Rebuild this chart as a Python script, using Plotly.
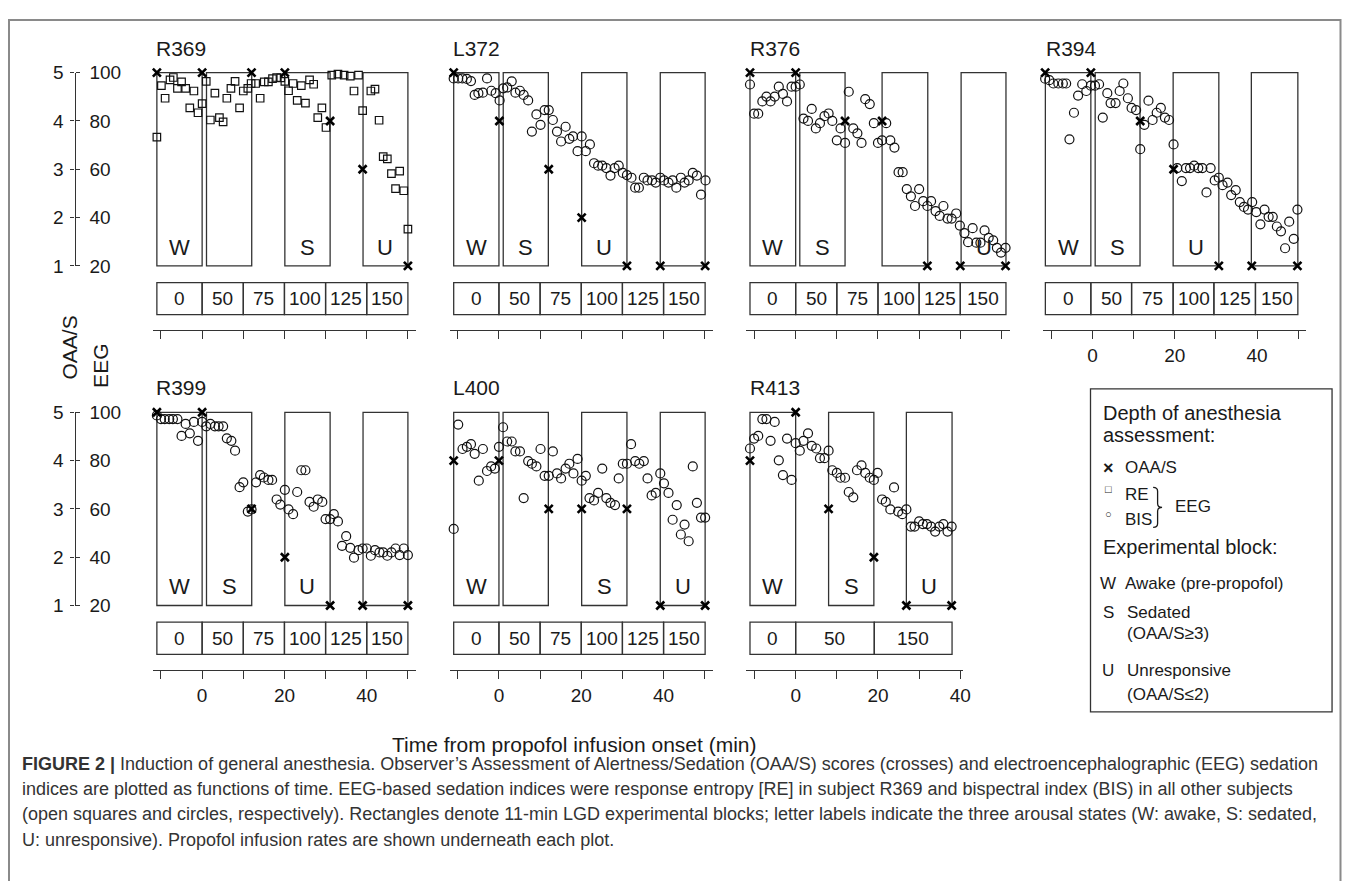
import plotly.graph_objects as go

# The page body keeps the browser's 8px margin, so the figure is drawn 8px in from the
# window corner; all positions below are window pixels and are converted for that.
PAGE_W, PAGE_H = 1357, 889
BODY_MARGIN = 8
FIG_W, FIG_H = PAGE_W - 2 * BODY_MARGIN, PAGE_H - 2 * BODY_MARGIN
FONT = "Liberation Sans, Arial, sans-serif"
INK = "#1a1a1a"
LINE = "#333333"

# ------------------------------------------------------------------ data
# R369 (response entropy, squares)
R369_T = [-11, -9.9, -9.0, -7.8, -7.0, -6.0, -5.0, -4.0, -3.0, -2.0, -1.0, 0.0, 1.0, 2.0, 3.1, 4.2,
          5.1, 6.0, 7.0, 8.0, 9.1, 10.0, 11.1, 11.9, 13.0, 14.1, 15.1, 16.1, 17.1, 18.1, 19.1, 20.1,
          21.0, 22.1, 23.1, 24.1, 25.1, 26.1, 27.1, 28.1, 29.1, 30.1, 31.5, 33.0, 34.5, 36.0, 36.9,
          38.0, 39.0, 41.0, 42.0, 43.0, 44.0, 45.0, 46.0, 47.0, 48.0, 49.0, 50.0]
R369_EEG = [73.3, 94.6, 89.4, 97.0, 98.0, 93.5, 96.2, 93.5, 85.4, 92.4, 83.4, 87.2, 96.4, 80.4, 91.5, 81.4,
            79.6, 89.4, 93.5, 96.4, 85.4, 92.4, 93.5, 95.5, 95.5, 89.4, 96.2, 96.2, 97.5, 98.0, 97.8, 96.4,
            92.5, 95.5, 88.5, 94.6, 87.4, 97.0, 95.2, 81.4, 85.4, 77.3, 99.0, 99.4, 99.0, 98.6, 92.4,
            99.0, 84.3, 92.4, 93.2, 80.3, 65.2, 64.3, 58.2, 52.0, 59.2, 51.1, 35.2]
R369_OAA_T = [-11, 0, 12, 20.1, 31.1, 39, 50]
R369_OAA = [5, 5, 5, 5, 4, 3, 1]
R369_BLOCKS = [(-11, 0, "W"), (1.06, 12.05, ""), (20.1, 31.1, "S"), (39.1, 50.0, "U")]
R369_RATE_EDGES = [-11, 0, 10, 20, 30, 40, 50]
R369_RATES = ["0", "50", "75", "100", "125", "150"]

# L372 (BIS, circles)
L372_T = [-11.0, -9.9, -8.9, -7.8, -6.8, -5.9, -5.0, -3.9, -2.9, -1.85, -0.8, 0.16, 1.05, 2.0, 3.1, 4.0,
          5.1, 6.0, 7.1, 8.0, 9.1, 10.1, 11.1, 12.1, 13.1, 14.1, 15.1, 16.2, 17.1, 18.0, 19.1, 20.1,
          21.1, 22.1, 23.1, 24.1, 25.1, 26.1, 27.1, 28.1, 29.1, 30.1, 31.1, 32.2, 33.1, 34.0, 35.2,
          36.1, 37.2, 38.1, 39.2, 40.1, 41.2, 42.2, 43.1, 44.2, 45.1, 46.1, 47.1, 48.1, 49.1, 50.2]
L372_EEG = [97.6, 97.6, 97.6, 97.4, 96.5, 90.8, 91.5, 91.7, 97.6, 92.5, 91.5, 88.5, 93.5, 93.9, 96.4, 91.7,
            92.5, 90.8, 88.5, 75.6, 82.7, 78.4, 84.5, 84.5, 80.4, 75.6, 71.5, 77.6, 72.6, 73.6, 67.5, 73.6,
            67.5, 70.3, 62.5, 61.5, 61.5, 60.5, 57.4, 60.5, 61.5, 58.5, 57.6, 56.5, 52.4, 52.4, 56.5,
            55.4, 55.4, 54.5, 56.5, 55.4, 54.5, 55.4, 52.4, 56.5, 54.5, 55.4, 58.5, 57.4, 49.5, 55.4]
L372_OAA_T = [-11, 0.1, 12.1, 20.1, 31.1, 39.2, 50.1]
L372_OAA = [5, 4, 3, 2, 1, 1, 1]
L372_BLOCKS = [(-11, 0, "W"), (1.04, 12.0, "S"), (20.1, 31.1, "U"), (39.2, 50.1, "")]
L372_RATE_EDGES = [-11, 0, 10, 20, 30, 40, 50.1]
L372_RATES = ["0", "50", "75", "100", "125", "150"]

# R376
R376_T = [-11.1, -10.1, -9.1, -8.1, -7.1, -6.1, -5.1, -4.1, -3.1, -2.1, -1.0, 0.0, 1.0, 1.9, 3.0, 3.9,
          4.9, 5.9, 7.0, 8.0, 8.9, 10.0, 10.9, 12.0, 12.9, 14.0, 15.0, 16.0, 16.9, 18.0, 19.0, 20.0,
          21.0, 22.0, 23.0, 24.0, 25.0, 26.0, 27.0, 28.0, 29.0, 30.0, 31.0, 32.0, 32.9, 34.0, 35.0,
          35.9, 36.9, 37.9, 39.0, 39.9, 41.0, 41.9, 43.0, 43.9, 44.9, 45.9, 46.9, 48.0, 48.9, 49.9, 51.0]
R376_EEG = [95.1, 83.0, 83.0, 88.1, 90.1, 88.1, 90.1, 94.2, 91.2, 88.1, 94.2, 94.2, 95.1, 81.0, 80.0, 85.0,
            76.9, 79.1, 82.0, 83.1, 80.0, 72.0, 76.9, 70.9, 92.1, 76.9, 74.9, 70.9, 89.0, 87.0, 79.1, 70.9,
            72.0, 79.1, 72.0, 69.0, 58.8, 58.8, 51.8, 48.8, 44.8, 51.8, 46.8, 44.8, 46.8, 42.7, 40.7,
            44.8, 39.6, 39.6, 41.7, 36.7, 33.6, 29.8, 35.6, 29.6, 29.6, 34.7, 31.6, 30.6, 27.5, 25.5, 27.5]
R376_OAA_T = [-11.1, 0, 12, 21, 32, 40, 51]
R376_OAA = [5, 5, 4, 4, 1, 1, 1]
R376_BLOCKS = [(-11.1, 0, "W"), (1.0, 12.0, "S"), (21.0, 32.1, ""), (40.2, 51.1, "U")]
R376_RATE_EDGES = [-11.1, 0, 10, 20, 30, 40, 51.1]
R376_RATES = ["0", "50", "75", "100", "125", "150"]

# R394
R394_T = [-11.5, -10.5, -9.5, -8.3, -7.2, -6.4, -5.6, -4.5, -3.5, -2.5, -1.5, -0.4, 0.6, 1.6, 2.5, 3.6,
          4.4, 5.6, 6.6, 7.5, 8.6, 9.5, 10.6, 11.6, 12.6, 13.6, 14.6, 15.6, 16.6, 17.6, 18.6, 19.7,
          20.6, 21.7, 22.7, 23.7, 24.7, 25.7, 26.7, 27.7, 28.7, 29.7, 30.7, 31.6, 32.8, 33.7, 34.8,
          35.8, 36.8, 37.8, 38.8, 39.8, 40.8, 41.8, 42.8, 43.8, 44.8, 45.8, 46.8, 47.8, 48.9, 49.8]
R394_EEG = [97.5, 96.9, 95.5, 95.5, 95.5, 95.5, 72.4, 83.4, 90.5, 95.2, 92.4, 94.6, 94.6, 95.2, 81.4, 91.5,
            87.4, 87.4, 92.4, 95.5, 89.4, 85.4, 84.5, 68.3, 78.4, 88.4, 80.4, 83.4, 85.4, 81.4, 80.4, 70.3,
            60.5, 55.1, 60.5, 60.5, 61.5, 60.5, 60.5, 50.4, 60.5, 55.4, 56.5, 53.4, 54.5, 49.3, 51.4,
            46.4, 44.4, 43.3, 46.4, 42.3, 37.2, 43.3, 40.3, 40.3, 36.3, 34.3, 27.3, 38.3, 31.2, 43.3]
R394_OAA_T = [-11.5, -0.4, 11.6, 19.7, 30.7, 38.7, 49.8]
R394_OAA = [5, 5, 4, 3, 1, 1, 1]
R394_BLOCKS = [(-11.45, -0.4, "W"), (0.65, 11.55, "S"), (19.6, 30.7, "U"), (38.6, 49.9, "")]
R394_RATE_EDGES = [-11.45, -0.4, 9.5, 19.6, 29.5, 39.6, 49.9]
R394_RATES = ["0", "50", "75", "100", "125", "150"]

# R399
R399_T = [-11.0, -10.0, -9.1, -8.0, -7.1, -6.0, -5.0, -4.0, -3.0, -2.0, -1.0, 0.0, 1.0, 2.0, 3.1, 4.0,
          5.1, 6.0, 7.1, 8.0, 9.1, 10.0, 11.1, 12.0, 13.1, 14.1, 15.0, 16.1, 17.0, 18.1, 19.0, 20.1,
          21.0, 22.1, 23.1, 24.1, 25.1, 26.1, 27.1, 28.1, 29.2, 30.0, 31.1, 32.0, 33.0, 34.0, 35.0,
          36.0, 36.9, 38.0, 39.0, 40.0, 41.0, 42.0, 43.1, 44.0, 45.0, 46.0, 47.0, 48.0, 49.0, 50.0]
R399_EEG = [98.7, 97.2, 97.2, 97.2, 97.2, 97.2, 90.2, 95.2, 91.3, 96.0, 88.2, 96.0, 94.2, 95.2, 94.2, 94.2,
            94.2, 89.2, 88.2, 84.1, 69.0, 71.0, 58.9, 59.8, 71.0, 74.0, 73.0, 72.0, 72.0, 63.9, 61.8, 67.9,
            59.8, 57.8, 67.0, 76.0, 76.0, 62.9, 60.9, 63.9, 62.9, 55.8, 55.8, 57.8, 54.8, 44.7, 48.7,
            43.9, 39.8, 42.9, 43.6, 43.6, 40.6, 42.9, 42.0, 42.0, 40.6, 42.0, 43.6, 40.9, 43.6, 40.9]
R399_OAA_T = [-11, 0, 12, 20.1, 31.1, 39, 50]
R399_OAA = [5, 5, 3, 2, 1, 1, 1]
R399_BLOCKS = [(-11, 0, "W"), (1.06, 12.05, "S"), (20.1, 31.1, "U"), (39.1, 50.0, "")]
R399_RATE_EDGES = [-11, 0, 10, 20, 30, 40, 50]
R399_RATES = ["0", "50", "75", "100", "125", "150"]

# L400
L400_T = [-11.0, -9.9, -8.85, -7.8, -6.8, -5.9, -4.9, -3.9, -2.9, -1.9, -1.0, 0.0, 1.0, 2.0, 3.1, 4.0,
          5.1, 6.0, 7.1, 8.0, 9.1, 10.1, 11.1, 12.1, 13.1, 14.1, 15.1, 16.2, 17.1, 18.1, 19.1, 20.1,
          21.1, 22.0, 23.1, 24.1, 25.1, 26.1, 27.1, 28.2, 29.1, 30.1, 31.1, 32.1, 33.1, 34.1, 35.2,
          36.1, 37.1, 38.1, 39.2, 40.1, 41.2, 42.2, 43.2, 44.2, 45.1, 46.1, 47.1, 48.1, 49.1, 50.1]
L400_EEG = [51.7, 94.9, 84.8, 85.7, 86.8, 82.8, 71.7, 84.8, 75.7, 77.6, 76.7, 85.7, 93.8, 87.9, 87.9, 83.8,
            83.8, 64.5, 79.8, 78.7, 77.6, 84.8, 73.7, 73.7, 83.8, 74.7, 72.6, 76.7, 78.7, 74.7, 80.7, 71.7,
            73.7, 64.5, 63.5, 66.6, 76.7, 64.5, 62.5, 61.6, 72.6, 78.7, 78.7, 86.8, 79.8, 78.7, 79.8,
            72.6, 65.6, 66.6, 74.7, 70.6, 66.6, 55.5, 61.6, 49.4, 53.5, 46.6, 77.6, 62.5, 56.4, 56.4]
L400_OAA_T = [-11, 0, 12.1, 20.1, 31.1, 39.2, 50.1]
L400_OAA = [4, 4, 3, 3, 3, 1, 1]
L400_BLOCKS = [(-11, 0, "W"), (1.0, 12.0, ""), (20.1, 31.1, "S"), (39.2, 50.1, "U")]
L400_RATE_EDGES = [-11, 0, 10, 20, 30, 40, 50.1]
L400_RATES = ["0", "50", "75", "100", "125", "150"]

# R413
R413_T = [-11.1, -10.1, -9.1, -8.1, -7.1, -6.1, -5.1, -4.1, -3.1, -2.1, -1.0, 0.0, 1.0, 1.9, 3.0, 3.9,
          5.0, 5.9, 7.0, 8.0, 8.9, 10.0, 10.9, 12.0, 12.9, 14.0, 14.9, 16.0, 16.9, 18.0, 19.0, 19.9,
          21.0, 21.9, 23.0, 23.9, 24.9, 25.9, 26.9, 28.0, 28.9, 30.0, 30.9, 31.9, 32.9, 33.9, 34.9,
          35.9, 36.9, 37.9]
R413_EEG = [85.0, 89.1, 90.2, 97.2, 97.2, 88.2, 96.0, 80.1, 74.0, 89.1, 72.0, 87.2, 84.1, 88.2, 91.3, 86.1,
            85.0, 81.0, 81.0, 84.1, 76.0, 74.9, 72.9, 72.9, 67.0, 64.8, 76.0, 78.0, 74.9, 72.9, 72.0, 74.9,
            63.9, 62.9, 59.8, 68.9, 58.9, 57.8, 59.8, 52.7, 52.7, 54.8, 53.7, 53.7, 52.7, 50.6, 52.7,
            53.7, 50.6, 52.7]
R413_OAA_T = [-11.1, 0, 8, 19, 26.9, 37.9]
R413_OAA = [4, 5, 3, 2, 1, 1]
R413_BLOCKS = [(-11.1, 0, "W"), (8.0, 19.0, "S"), (26.9, 38.0, "U")]
R413_RATE_EDGES = [-11.1, 0, 19.1, 38.0]
R413_RATES = ["0", "50", "150"]

X_TICKS = [-10, 0, 10, 20, 30, 40, 50]
X_TICK_TEXT = ["", "0", "", "20", "", "40", ""]
OAA_TICKS = [1, 2, 3, 4, 5]
EEG_TICKS = [20, 40, 60, 80, 100]

PANELS = [
    dict(name="R369", t=R369_T, eeg=R369_EEG, sym="square-open", ot=R369_OAA_T, oaa=R369_OAA,
         blocks=R369_BLOCKS, edges=R369_RATE_EDGES, rates=R369_RATES, row=0, col=0, labels=False, xmax=52),
    dict(name="L372", t=L372_T, eeg=L372_EEG, sym="circle-open", ot=L372_OAA_T, oaa=L372_OAA,
         blocks=L372_BLOCKS, edges=L372_RATE_EDGES, rates=L372_RATES, row=0, col=1, labels=False, xmax=52),
    dict(name="R376", t=R376_T, eeg=R376_EEG, sym="circle-open", ot=R376_OAA_T, oaa=R376_OAA,
         blocks=R376_BLOCKS, edges=R376_RATE_EDGES, rates=R376_RATES, row=0, col=2, labels=False, xmax=52),
    dict(name="R394", t=R394_T, eeg=R394_EEG, sym="circle-open", ot=R394_OAA_T, oaa=R394_OAA,
         blocks=R394_BLOCKS, edges=R394_RATE_EDGES, rates=R394_RATES, row=0, col=3, labels=True, xmax=52),
    dict(name="R399", t=R399_T, eeg=R399_EEG, sym="circle-open", ot=R399_OAA_T, oaa=R399_OAA,
         blocks=R399_BLOCKS, edges=R399_RATE_EDGES, rates=R399_RATES, row=1, col=0, labels=True, xmax=52),
    dict(name="L400", t=L400_T, eeg=L400_EEG, sym="circle-open", ot=L400_OAA_T, oaa=L400_OAA,
         blocks=L400_BLOCKS, edges=L400_RATE_EDGES, rates=L400_RATES, row=1, col=1, labels=True, xmax=52),
    dict(name="R413", t=R413_T, eeg=R413_EEG, sym="circle-open", ot=R413_OAA_T, oaa=R413_OAA,
         blocks=R413_BLOCKS, edges=R413_RATE_EDGES, rates=R413_RATES, row=1, col=2, labels=True, xmax=40.6),
]

# ------------------------------------------------------------------ geometry (window pixels)
COL_X0 = [203.3, 501.9, 800.4, 1099.0]   # pixel of t = 0 in each column
ROW_Y20 = [262.0, 610.0]                  # pixel of EEG = 20 in each row
S_PX = 4.14                               # px per minute
E_PX = 2.475                              # px per EEG unit
X_MIN = -12.0
Y_MIN, Y_MAX = -6.67, 101.6
RATE_Y0, RATE_Y1 = -0.2, 13.1
BLOCK_LABEL_Y = 27.7
OAA_TO_EEG = 20.0                          # OAA/S score k sits at EEG = 20*k


def px(x):
    return (x - BODY_MARGIN) / FIG_W


def py(y):
    return 1 - (y - BODY_MARGIN) / FIG_H


fig = go.Figure()
shapes = []
annotations = []
layout = {}

for i, p in enumerate(PANELS):
    k = i + 1
    xa = "x" if k == 1 else f"x{k}"
    ya = "y" if k == 1 else f"y{k}"
    x0 = COL_X0[p["col"]]
    y20 = ROW_Y20[p["row"]]
    dom_x = [px(x0 + X_MIN * S_PX), px(x0 + p["xmax"] * S_PX)]
    dom_y = [py(y20 + (20 - Y_MIN) * E_PX), py(y20 - (Y_MAX - 20) * E_PX)]
    ticks = [t for t in X_TICKS if t <= p["xmax"]]
    ttext = [X_TICK_TEXT[X_TICKS.index(t)] if p["labels"] else "" for t in ticks]
    layout[f"xaxis{k}" if k > 1 else "xaxis"] = dict(
        domain=dom_x, range=[X_MIN, p["xmax"]], anchor=ya, showgrid=False, zeroline=False,
        showline=True, linecolor=LINE, linewidth=1.3, ticks="outside", ticklen=8, tickwidth=1.3,
        tickcolor=LINE, tickvals=ticks, ticktext=ttext,
        tickfont=dict(family=FONT, size=19, color=INK), fixedrange=True)
    layout[f"yaxis{k}" if k > 1 else "yaxis"] = dict(
        domain=dom_y, range=[Y_MIN, Y_MAX], anchor=xa, visible=False, fixedrange=True)

    # experimental blocks
    for (b0, b1, lab) in p["blocks"]:
        shapes.append(dict(type="rect", xref=xa, yref=ya, x0=b0, x1=b1, y0=20, y1=100,
                           line=dict(color=LINE, width=1.3), fillcolor="rgba(0,0,0,0)", layer="below"))
        if lab:
            annotations.append(dict(xref=xa, yref=ya, x=(b0 + b1) / 2, y=BLOCK_LABEL_Y, text=lab,
                                    showarrow=False, font=dict(family=FONT, size=22, color=INK),
                                    xanchor="center", yanchor="middle"))
    # infusion rate boxes
    ed = p["edges"]
    for j, r in enumerate(p["rates"]):
        shapes.append(dict(type="rect", xref=xa, yref=ya, x0=ed[j], x1=ed[j + 1], y0=RATE_Y0, y1=RATE_Y1,
                           line=dict(color=LINE, width=1.3), fillcolor="rgba(0,0,0,0)"))
        annotations.append(dict(xref=xa, yref=ya, x=(ed[j] + ed[j + 1]) / 2, y=(RATE_Y0 + RATE_Y1) / 2,
                                text=r, showarrow=False, font=dict(family=FONT, size=19, color=INK),
                                xanchor="center", yanchor="middle"))
    # title
    annotations.append(dict(xref="paper", yref="paper", x=px(x0 - 11.7 * S_PX),
                            y=py(y20 - 80 * E_PX - 25), text=p["name"], showarrow=False,
                            font=dict(family=FONT, size=21, color=INK), xanchor="left", yanchor="middle"))
    # data
    fig.add_trace(go.Scatter(x=p["t"], y=p["eeg"], xaxis=xa, yaxis=ya, mode="markers", cliponaxis=False,
                             marker=dict(symbol=p["sym"], size=9 if p["sym"].startswith("circle") else 7.5,
                                         color="#111111", line=dict(width=1.2)),
                             showlegend=False, hoverinfo="x+y"))
    fig.add_trace(go.Scatter(x=p["ot"], y=[v * OAA_TO_EEG for v in p["oaa"]], xaxis=xa, yaxis=ya,
                             mode="markers", cliponaxis=False,
                             marker=dict(symbol="x-thin", size=8, color="#000000",
                                         line=dict(width=2.6, color="#000000")),
                             showlegend=False, hoverinfo="x+y"))

# ------------------------------------------------------------------ left OAA/S + EEG axes
AX_X = 75.0
for r, y20 in enumerate(ROW_Y20):
    xk = 8 + r
    yo = 8 + 2 * r
    ye = yo + 1
    dom = [py(y20), py(y20 - 80 * E_PX)]
    layout[f"xaxis{xk}"] = dict(domain=[0.0, 0.02], visible=False, anchor=f"y{yo}", range=[0, 1])
    layout[f"yaxis{yo}"] = dict(domain=dom, range=[1, 5], anchor="free", position=px(AX_X), side="left",
                                showline=True, linecolor=LINE, linewidth=1.3, ticks="outside", ticklen=4,
                                tickwidth=1.3, tickcolor=LINE, tickvals=OAA_TICKS, showgrid=False,
                                zeroline=False, ticklabelstandoff=3,
                                tickfont=dict(family=FONT, size=19, color=INK), fixedrange=True)
    layout[f"yaxis{ye}"] = dict(range=[20, 100], overlaying=f"y{yo}", anchor="free", position=px(AX_X),
                                side="right", showline=False, ticks="outside", ticklen=4, tickwidth=1.3,
                                tickcolor=LINE, tickvals=EEG_TICKS, showgrid=False, zeroline=False,
                                ticklabelstandoff=6, tickfont=dict(family=FONT, size=19, color=INK),
                                fixedrange=True)
    fig.add_trace(go.Scatter(x=[None], y=[None], xaxis=f"x{xk}", yaxis=f"y{yo}", mode="markers",
                             showlegend=False, hoverinfo="skip"))
    fig.add_trace(go.Scatter(x=[None], y=[None], xaxis=f"x{xk}", yaxis=f"y{ye}", mode="markers",
                             showlegend=False, hoverinfo="skip"))


def text_at(x, y, s, size, anchor="left", angle=0, color=INK):
    annotations.append(dict(xref="paper", yref="paper", x=px(x), y=py(y), text=s, showarrow=False,
                            xanchor=anchor, yanchor="middle", textangle=angle,
                            font=dict(family=FONT, size=size, color=color)))


# axis titles
text_at(70, 346, "OAA/S", 21, "center", -90)
text_at(101, 364, "EEG", 21, "center", -90)
text_at(578, 752, "Time from propofol infusion onset (min)", 21, "center")

# ------------------------------------------------------------------ legend box
LEG = dict(x0=1097, x1=1340, y0=388, y1=719)
shapes.append(dict(type="rect", xref="paper", yref="paper", x0=px(LEG["x0"]), x1=px(LEG["x1"]),
                   y0=py(LEG["y1"]), y1=py(LEG["y0"]), line=dict(color=LINE, width=1.3)))

text_at(1108, 413, "Depth of anesthesia", 20)
text_at(1108, 435, "assessment:", 20)
text_at(1115, 469, "<b>×</b>", 18, "center")
text_at(1130, 469, "OAA/S", 17)
text_at(1115, 491, "□", 11, "center")
text_at(1130, 496, "RE", 17)
text_at(1115, 516, "○", 11, "center")
text_at(1130, 522, "BIS", 17)
text_at(1180, 509, "EEG", 17)
text_at(1108, 550, "Experimental block:", 20)
text_at(1115, 587, "W", 17, "center")
text_at(1130, 587, "Awake (pre-propofol)", 17)
text_at(1115, 617, "S", 17, "center")
text_at(1132, 617, "Sedated", 17)
text_at(1132, 639, "(OAA/S≥3)", 17)
text_at(1115, 677, "U", 17, "center")
text_at(1132, 677, "Unresponsive", 17)
text_at(1132, 701, "(OAA/S≤2)", 17)

# curly brace grouping RE and BIS
BR_X, BR_TOP, BR_BOT, BR_W = 1160.0, 489.0, 530.0, 9.0
BR_MID = (BR_TOP + BR_BOT) / 2
h = BR_W / 2


def P(x, y):
    return f"{px(x):.6f},{py(y):.6f}"


brace = (f"M{P(BR_X, BR_TOP)} Q{P(BR_X + h, BR_TOP)} {P(BR_X + h, BR_TOP + 4)} "
         f"L{P(BR_X + h, BR_MID - 4)} Q{P(BR_X + h, BR_MID)} {P(BR_X + BR_W, BR_MID)} "
         f"Q{P(BR_X + h, BR_MID)} {P(BR_X + h, BR_MID + 4)} "
         f"L{P(BR_X + h, BR_BOT - 4)} Q{P(BR_X + h, BR_BOT)} {P(BR_X, BR_BOT)}")
shapes.append(dict(type="path", xref="paper", yref="paper", path=brace, line=dict(color=INK, width=1.3)))

# ------------------------------------------------------------------ caption + frame
CAPTION = [
    "<b>FIGURE 2 |</b> Induction of general anesthesia. Observer’s Assessment of Alertness/Sedation (OAA/S) "
    "scores (crosses) and electroencephalographic (EEG) sedation",
    "indices are plotted as functions of time. EEG-based sedation indices were response entropy [RE] in "
    "subject R369 and bispectral index (BIS) in all other subjects",
    "(open squares and circles, respectively). Rectangles denote 11-min LGD experimental blocks; letter "
    "labels indicate the three arousal states (W: awake, S: sedated,",
    "U: unresponsive). Propofol infusion rates are shown underneath each plot.",
]
for j, line in enumerate(CAPTION):
    text_at(20, 772 + 26 * j, line, 18, "left", 0, "#333333")

shapes.append(dict(type="rect", xref="paper", yref="paper", x0=px(9), x1=px(1348.5), y0=-0.05, y1=py(10),
                   line=dict(color="#8a8a8a", width=2)))

fig.update_layout(**layout)
fig.update_layout(width=FIG_W, height=FIG_H, margin=dict(l=0, r=0, t=0, b=0), paper_bgcolor="white",
                  plot_bgcolor="rgba(0,0,0,0)", shapes=shapes, annotations=annotations, showlegend=False)
fig.write_html("out.html")
